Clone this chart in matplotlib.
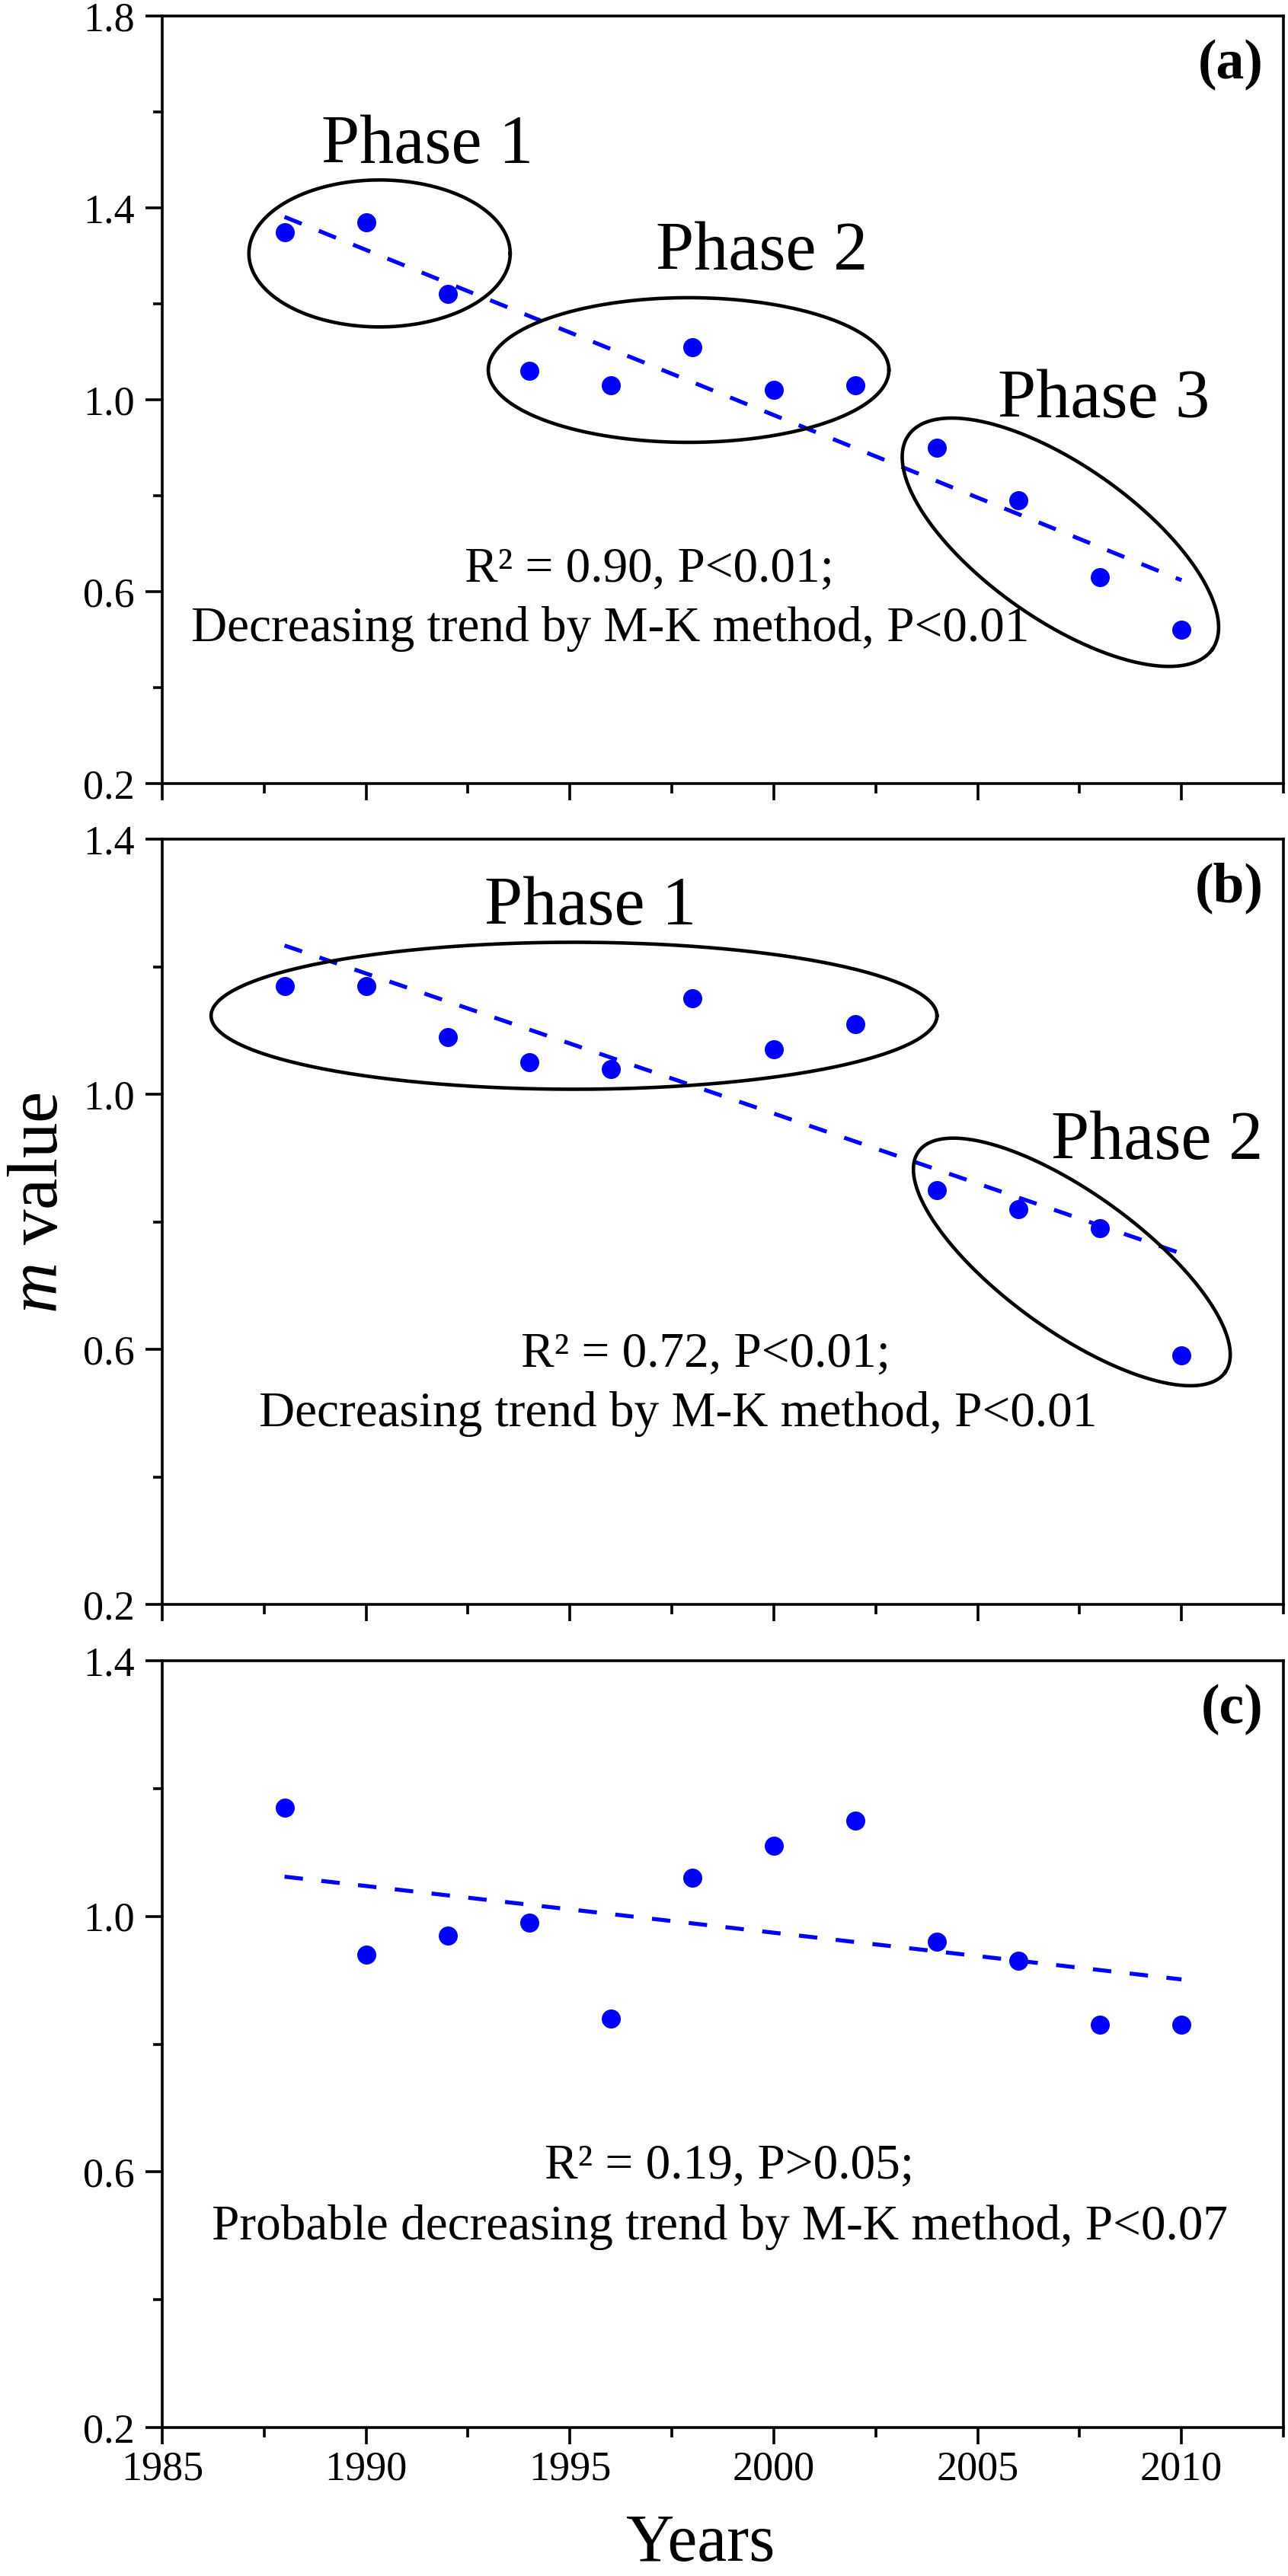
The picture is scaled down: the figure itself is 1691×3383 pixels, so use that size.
import numpy as np
import matplotlib
matplotlib.use("Agg")
import matplotlib.pyplot as plt
from matplotlib.ticker import MultipleLocator, FormatStrFormatter

plt.rcParams['font.family'] = ['Liberation Serif', 'DejaVu Serif']
plt.rcParams['mathtext.fontset'] = 'custom'
plt.rcParams['mathtext.rm'] = 'Liberation Serif'
plt.rcParams['mathtext.it'] = 'Liberation Serif:italic'

# data
years = [1988, 1990, 1992, 1994, 1996, 1998, 2000, 2002, 2004, 2006, 2008, 2010]
m_a = [1.35, 1.37, 1.22, 1.06, 1.03, 1.11, 1.02, 1.03, 0.90, 0.79, 0.63, 0.52]
m_b = [1.17, 1.17, 1.09, 1.05, 1.04, 1.15, 1.07, 1.11, 0.85, 0.82, 0.79, 0.59]
m_c = [1.17, 0.94, 0.97, 0.99, 0.84, 1.06, 1.11, 1.15, 0.96, 0.93, 0.83, 0.83]

panel_tags = ['(a)', '(b)', '(c)']
y_tops = [1.8, 1.4, 1.4]

stats_a = ['R² = 0.90, P<0.01;', 'Decreasing trend by M-K method, P<0.01']
stats_b = ['R² = 0.72, P<0.01;', 'Decreasing trend by M-K method, P<0.01']
stats_c = ['R² = 0.19, P>0.05;', 'Probable decreasing trend by M-K method, P<0.07']

# annotation layout: (x, y) in data units, ellipse size in pixels
phase_text = [
    [('Phase 1', 1991.5, 1.494), ('Phase 2', 1999.7, 1.271), ('Phase 3', 2008.1, 0.964)],
    [('Phase 1', 1995.5, 1.266), ('Phase 2', 2009.4, 0.899)],
    [],
]
rings = [
    [(1990.33, 1.305, 343, 193, 0), (1997.91, 1.062, 526, 190, 0), (2007.03, 0.703, 488, 202, -35.2)],
    [(1995.10, 1.123, 953, 193, 0), (2007.31, 0.737, 496, 181, -35.8)],
    [],
]
stats_pos = [
    [(1996.94, 0.622), (1995.98, 0.497)],
    [(1998.32, 0.573), (1997.66, 0.479)],
    [(1998.90, 0.590), (1998.67, 0.494)],
]

W, H = 1691, 3383
fig = plt.figure(figsize=(W / 100, H / 100), dpi=100)
left, width = 213 / W, 1472 / W
boxes = [(1029, 1008), (2107, 1005), (3188, 1007)]

series = [m_a, m_b, m_c]
stats = [stats_a, stats_b, stats_c]
xlim = (1985, 2012.5)


def ring(ax, cx, cy, w, h, ang, axw, axh):
    # ellipse drawn in screen pixels around a data-space centre
    x0, x1 = ax.get_xlim()
    y0, y1 = ax.get_ylim()
    fx = (cx - x0) / (x1 - x0)
    fy = (cy - y0) / (y1 - y0)
    t = np.linspace(0, 2 * np.pi, 400)
    a = np.deg2rad(ang)
    px = w / 2 * np.cos(t) * np.cos(a) - h / 2 * np.sin(t) * np.sin(a)
    py = w / 2 * np.cos(t) * np.sin(a) + h / 2 * np.sin(t) * np.cos(a)
    ax.plot(fx + px / axw, fy + py / axh, color='black', lw=3.3,
            transform=ax.transAxes, clip_on=False)


for i in range(3):
    bot, hh = boxes[i]
    ax = fig.add_axes([left, 1 - bot / H, width, hh / H])
    axw, axh = 1472, hh
    vals = series[i]

    ax.set_xlim(*xlim)
    ax.set_ylim(0.2, y_tops[i])

    ax.plot(years, vals, 'o', color='#0000FF', markersize=18, markeredgewidth=0)
    k, b = np.polyfit(years, vals, 1)
    xx = np.array([years[0], years[-1]])
    ax.plot(xx, k * xx + b, color='#0000FF', lw=3.8, linestyle=(0, (4.6, 4.6)))

    for txt, tx, ty in phase_text[i]:
        ax.text(tx, ty, txt, fontsize=65, ha='center', va='baseline')
    for r in rings[i]:
        ring(ax, *r, axw, axh)
    for line, (tx, ty) in zip(stats[i], stats_pos[i]):
        ax.text(tx, ty, line, fontsize=47, ha='center', va='baseline')

    ax.text(1 - 26 / axw, 1 - 30 / axh, panel_tags[i], transform=ax.transAxes,
            fontsize=53, fontweight='bold', ha='right', va='top')

    ax.xaxis.set_major_locator(MultipleLocator(5))
    ax.xaxis.set_minor_locator(MultipleLocator(2.5))
    ax.yaxis.set_major_locator(MultipleLocator(0.4, offset=0.2))
    ax.yaxis.set_minor_locator(MultipleLocator(0.2))
    ax.yaxis.set_major_formatter(FormatStrFormatter('%.1f'))
    ax.tick_params(which='both', direction='out', top=False, right=False, width=2.6)
    ax.tick_params(which='major', length=15.8, labelsize=39)
    ax.tick_params(axis='y', which='major', pad=10)
    ax.tick_params(axis='x', which='major', pad=6)
    ax.tick_params(which='minor', length=9)
    if i < 2:
        ax.tick_params(axis='x', labelbottom=False)
    for s in ax.spines.values():
        s.set_linewidth(2.6)

fig.text(920 / W, 20 / H, 'Years', fontsize=63, ha='center', va='baseline')
fig.text(52 / W, 1 - 1580 / H, '$m$ value', fontsize=67, rotation=90,
         ha='center', va='center')

fig.savefig('out.png', dpi=100)
